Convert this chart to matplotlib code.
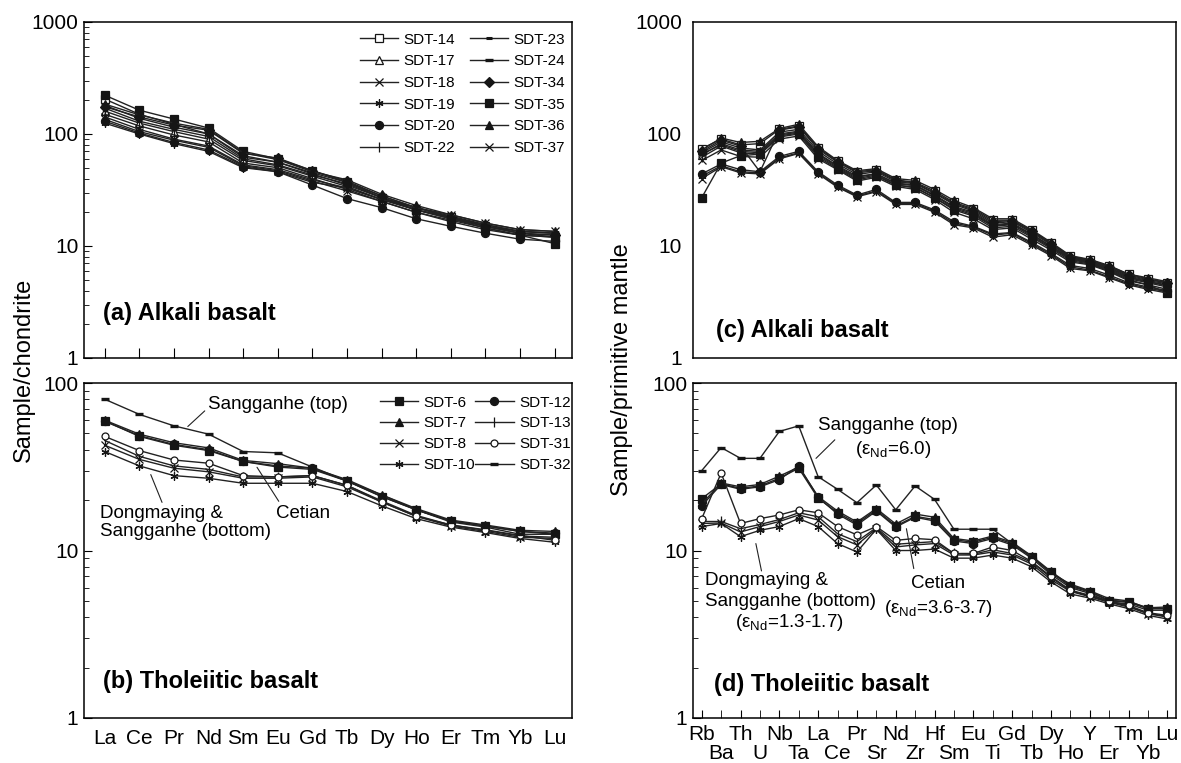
import numpy as np
import matplotlib.pyplot as plt
from matplotlib.ticker import NullFormatter, LogLocator

plt.rcParams['font.family'] = ['Liberation Sans', 'DejaVu Sans']
plt.rcParams['mathtext.fontset'] = 'custom'
plt.rcParams['mathtext.rm'] = 'Liberation Sans'

#   Elements
ree = ['La', 'Ce', 'Pr', 'Nd', 'Sm', 'Eu', 'Gd', 'Tb', 'Dy', 'Ho', 'Er', 'Tm', 'Yb', 'Lu']
spider = ['Rb', 'Ba', 'Th', 'U', 'Nb', 'Ta', 'La', 'Ce', 'Pr', 'Sr', 'Nd', 'Zr', 'Hf',
          'Sm', 'Eu', 'Ti', 'Gd', 'Tb', 'Dy', 'Ho', 'Y', 'Er', 'Tm', 'Yb', 'Lu']

#   Alkali basalt samples (a, c)
alkali_names = ['SDT-14', 'SDT-17', 'SDT-18', 'SDT-19', 'SDT-20', 'SDT-22',
                'SDT-23', 'SDT-24', 'SDT-34', 'SDT-35', 'SDT-36', 'SDT-37']
alkali_ree = [
    [205, 150, 122, 100, 62, 56, 44, 35, 27, 21, 18, 15, 13, 12],
    [160, 125, 105, 90, 58, 52, 42, 34, 26, 21, 17.5, 15, 13, 12.5],
    [135, 105, 88, 76, 52, 47, 38, 31, 25, 20, 17, 14.5, 12.5, 12],
    [125, 100, 82, 70, 50, 46, 37, 33, 26, 21, 18, 15.5, 13.5, 13],
    [130, 102, 84, 72, 51, 46, 35, 26.5, 22, 17.5, 15, 13, 11.5, 11],
    [150, 118, 98, 85, 55, 50, 40, 32, 25, 20, 16.5, 14, 12.5, 12],
    [170, 130, 110, 95, 60, 53, 43, 36, 27, 22, 18, 15, 13.5, 13],
    [180, 138, 115, 100, 64, 56, 45, 37, 28, 22, 18.5, 15.5, 13.5, 13],
    [175, 142, 120, 108, 67, 61, 47, 38, 28, 22, 18, 15, 13, 12.5],
    [222, 163, 136, 113, 70, 60, 47, 37, 27, 21, 17.5, 14.5, 12.5, 10.5],
    [185, 148, 125, 110, 68, 59, 46, 39, 29, 23, 19, 16, 14, 13.5],
    [142, 110, 90, 78, 53, 48, 39, 33, 26, 22, 19, 16, 14, 13.5],
]
alkali_spider = [
    [74, 90, 80, 82, 110, 118, 75, 57, 46, 48, 39, 37, 31, 24.5, 21.5, 17, 17, 13.8, 10.6, 8.1, 7.5, 6.6, 5.6, 5.1, 4.7],
    [65, 82, 72, 70, 100, 106, 67, 52, 42, 44, 36.5, 35, 28.5, 22.5, 20, 15.5, 16, 12.8, 10, 7.8, 7.2, 6.3, 5.3, 4.8, 4.5],
    [58, 72, 63, 62, 90, 96, 60, 48, 38, 41, 34, 32, 26, 20, 17.5, 14, 14.5, 11.5, 9.2, 7.2, 6.8, 5.9, 4.9, 4.5, 4.1],
    [42, 52, 46, 45, 61, 68, 45, 34, 28, 31, 24, 24, 20.5, 16, 14.8, 12.5, 13, 10.5, 8.4, 6.5, 6.1, 5.3, 4.6, 4.2, 3.9],
    [44, 54, 48, 46, 63, 70, 46, 35, 28.5, 32, 24.5, 24.5, 21, 16.5, 15, 12.8, 13.2, 10.8, 8.6, 6.7, 6.3, 5.5, 4.7, 4.3, 4.0],
    [62, 78, 68, 66, 96, 102, 64, 50, 40, 43, 35, 33.5, 27, 21.5, 19, 15, 15.5, 12.3, 9.7, 7.6, 7.0, 6.1, 5.1, 4.7, 4.3],
    [68, 85, 75, 72, 104, 110, 70, 54, 43.5, 46, 37.5, 36, 29.5, 23.5, 20.5, 16, 16.5, 13.2, 10.3, 7.9, 7.3, 6.4, 5.4, 4.9, 4.6],
    [66, 80, 70, 68, 98, 104, 66, 51, 41, 44, 36, 34.5, 28, 22, 19.5, 15.2, 15.8, 12.6, 9.9, 7.7, 7.1, 6.2, 5.2, 4.8, 4.4],
    [70, 88, 78, 46, 108, 116, 73, 56, 45, 47, 38.5, 36.5, 30, 24, 21, 16.5, 16.8, 13.5, 10.5, 8.0, 7.4, 6.5, 5.5, 5.0, 4.7],
    [27, 55, 64, 66, 94, 100, 62, 49, 39, 42, 35, 33, 27, 21, 18.5, 14.5, 15, 12, 9.5, 7.4, 6.9, 6.0, 5.0, 4.5, 3.8],
    [72, 92, 84, 86, 112, 122, 77, 58, 47, 49, 40, 38.5, 32, 25.5, 22, 17.5, 17.5, 14, 10.8, 8.2, 7.6, 6.7, 5.6, 5.2, 4.8],
    [40, 51, 45, 44, 60, 67, 44, 33.5, 27.5, 30.5, 23.5, 23.5, 20, 15.5, 14.5, 12, 12.6, 10.2, 8.2, 6.3, 6.0, 5.2, 4.5, 4.1, 3.8],
]

#   Tholeiitic basalt samples (b, d)
thol_names = ['SDT-6', 'SDT-7', 'SDT-8', 'SDT-10', 'SDT-12', 'SDT-13', 'SDT-31', 'SDT-32']
thol_ree = [
    [59.5, 48, 42.5, 39.5, 34, 31.5, 30.5, 26, 21, 17.5, 15, 14, 13, 12.5],
    [60, 49.5, 44, 41, 34.5, 33, 31, 26.5, 21.5, 17.8, 15.2, 14.2, 13.2, 13],
    [42.5, 35, 31, 29.5, 27, 27, 27.5, 24, 19.5, 16, 14, 13, 12, 11.8],
    [39, 32, 28, 27, 25.2, 25.2, 25.2, 22.5, 18.5, 15.5, 13.8, 12.8, 11.8, 11.2],
    [59, 48.5, 43, 40, 34, 32, 31, 26, 21, 17.5, 15, 14, 13, 12.7],
    [45.4, 36.5, 32, 30.5, 27.5, 27.5, 28, 24.5, 19.8, 16.2, 14.2, 13.2, 12.2, 12],
    [48, 39.5, 34.7, 33.2, 28, 27.5, 28, 24.5, 19.5, 16, 14.2, 13.3, 12.3, 11.5],
    [80, 65, 55.5, 49.5, 39, 38.3, 31.5, 26, 21.5, 17.5, 14.8, 13.8, 12.5, 12.5],
]
thol_spider = [
    [20.4, 25, 23.5, 24.3, 27, 31, 20.5, 16.8, 14.5, 17.5, 14, 16, 15.3, 11.6, 11.2, 12, 11, 9.2, 7.4, 6.1, 5.65, 5.0, 4.9, 4.5, 4.5],
    [19, 25.3, 24, 24.8, 27.8, 31.5, 21, 17.2, 14.8, 17.8, 14.4, 16.5, 15.8, 11.8, 11.4, 12.2, 11.2, 9.3, 7.5, 6.2, 5.7, 5.05, 4.95, 4.55, 4.6],
    [14.5, 14.6, 12.9, 13.9, 14.9, 16.3, 15.2, 12.1, 10.8, 13.5, 10.5, 10.8, 11.0, 9.4, 9.4, 9.8, 9.4, 8.3, 6.7, 5.7, 5.3, 4.9, 4.6, 4.2, 4.0],
    [13.9, 14.5, 12.1, 13.2, 13.9, 15.5, 13.9, 11, 9.8, 13.4, 10, 10, 10.2, 9.0, 9.0, 9.4, 9.0, 8.0, 6.5, 5.5, 5.2, 4.8, 4.5, 4.1, 3.9],
    [18.5, 24.8, 23.2, 24, 26.5, 32, 20.8, 16.5, 14.2, 17.2, 13.8, 15.8, 15, 11.4, 11, 11.8, 10.8, 9.0, 7.2, 6.0, 5.55, 4.9, 4.8, 4.4, 4.4],
    [14.9, 14.9, 13.5, 14.3, 15.3, 16.8, 15.9, 12.6, 11.3, 13.7, 10.9, 11.1, 11.3, 9.6, 9.5, 10.1, 9.6, 8.5, 6.9, 5.75, 5.35, 4.95, 4.65, 4.2, 4.05],
    [15.5, 29, 14.5, 15.5, 16.3, 17.5, 16.8, 13.9, 12.4, 13.9, 11.5, 11.8, 11.6, 9.6, 9.6, 10.5, 10, 8.6, 7.0, 5.8, 5.4, 5.0, 4.7, 4.25, 4.1],
    [30, 41.2, 35.5, 35.5, 51.4, 55.5, 27.6, 23.2, 19.3, 24.6, 17.5, 24.3, 20.2, 13.4, 13.4, 13.4, 11.0, 9.2, 7.35, 6.3, 5.75, 5.16, 5.0, 4.5, 4.5],
]

#   Marker style of every sample
styles = {
    'SDT-14': dict(marker='s', mfc='white'),
    'SDT-17': dict(marker='^', mfc='white'),
    'SDT-18': dict(marker='x'),
    'SDT-19': dict(marker=(6, 2, 0)),
    'SDT-20': dict(marker='o'),
    'SDT-22': dict(marker='|', ms=7.5),
    'SDT-23': dict(marker='_', ms=4, mew=2.2),
    'SDT-24': dict(marker='_', ms=6, mew=2.4),
    'SDT-34': dict(marker='D', ms=5),
    'SDT-35': dict(marker='s'),
    'SDT-36': dict(marker='^'),
    'SDT-37': dict(marker='x'),
    'SDT-6': dict(marker='s'),
    'SDT-7': dict(marker='^'),
    'SDT-8': dict(marker='x'),
    'SDT-10': dict(marker=(6, 2, 0)),
    'SDT-12': dict(marker='o'),
    'SDT-13': dict(marker='|', ms=7.5),
    'SDT-31': dict(marker='o', mfc='white', ms=5),
    'SDT-32': dict(marker='_', ms=6, mew=2.4),
}


def draw(ax, names, values):
    x = np.arange(len(values[0]))
    for name, vals in zip(names, values):
        st = dict(ms=5.8, mew=0.9, mfc='#151515')
        st.update(styles[name])
        ax.plot(x, vals, color='#222222', lw=1.0, mec='#151515', label=name, **st)


def setup(ax, ymax, xlim):
    ax.set_yscale('log')
    ax.set_ylim(1, ymax)
    ax.set_xlim(*xlim)
    ticks = [t for t in [1, 10, 100, 1000] if t <= ymax]
    ax.set_yticks(ticks)
    ax.set_yticklabels([str(t) for t in ticks])
    ax.yaxis.set_minor_locator(LogLocator(base=10, subs=np.arange(2, 10)))
    ax.yaxis.set_minor_formatter(NullFormatter())
    ax.tick_params(which='both', direction='in', top=False, right=False, labelsize=15)
    ax.tick_params(axis='y', which='major', length=6, pad=4)
    ax.tick_params(axis='y', which='minor', length=3.5)
    for s in ax.spines.values():
        s.set_linewidth(1.1)


fig = plt.figure(figsize=(11.81, 7.63), dpi=100)
ax_a = fig.add_axes([0.0711, 0.5308, 0.4132, 0.4404])
ax_b = fig.add_axes([0.0711, 0.059, 0.4132, 0.439])
ax_c = fig.add_axes([0.5868, 0.5308, 0.409, 0.4404])
ax_d = fig.add_axes([0.5868, 0.059, 0.409, 0.439])

txt = 13.5
lab = 17

# (a)
draw(ax_a, alkali_names, alkali_ree)
setup(ax_a, 1000, (-0.6, 13.5))
ax_a.set_xticks(np.arange(len(ree)))
ax_a.set_xticklabels([])
ax_a.tick_params(axis='x', which='both', length=7)
ax_a.xaxis.set_minor_locator(plt.NullLocator())
ax_a.legend(ncol=2, loc='upper right', bbox_to_anchor=(0.986, 0.968), frameon=False,
            fontsize=11, handlelength=2.5, handletextpad=0.35, columnspacing=1.0,
            labelspacing=0.5, borderpad=0, borderaxespad=0)
ax_a.text(0.04, 0.132, '(a) Alkali basalt', transform=ax_a.transAxes,
          fontsize=lab, fontweight='bold', va='center')

# (b)
draw(ax_b, thol_names, thol_ree)
setup(ax_b, 100, (-0.6, 13.5))
ax_b.set_xticks(np.arange(len(ree)))
ax_b.set_xticklabels(ree)
ax_b.xaxis.set_minor_locator(plt.NullLocator())
ax_b.tick_params(axis='x', which='both', length=0, pad=8)
ax_b.legend(ncol=2, loc='upper right', bbox_to_anchor=(0.997, 0.962), frameon=False,
            fontsize=11, handlelength=2.5, handletextpad=0.35, columnspacing=0.0,
            labelspacing=0.44, borderpad=0, borderaxespad=0)
ax_b.text(0.04, 0.109, '(b) Tholeiitic basalt', transform=ax_b.transAxes,
          fontsize=lab, fontweight='bold', va='center')
ax_b.annotate('Sangganhe (top)', xy=(2.4, 55), xytext=(2.97, 74), fontsize=txt, va='center',
              arrowprops=dict(arrowstyle='-', lw=0.8, color='#222222', shrinkA=0, shrinkB=0,
                              relpos=(0, 0.3)))
ax_b.annotate('Cetian', xy=(4.4, 31.4), xytext=(4.95, 16.7), fontsize=txt, va='center',
              arrowprops=dict(arrowstyle='-', lw=0.8, color='#222222', shrinkA=0, shrinkB=0,
                              relpos=(0.05, 1.2)))
ax_b.annotate('Dongmaying &\nSangganhe (bottom)', xy=(1.33, 28.4), xytext=(-0.14, 14.7),
              fontsize=txt, va='center', linespacing=1.05,
              arrowprops=dict(arrowstyle='-', lw=0.8, color='#222222', shrinkA=0, shrinkB=0,
                              relpos=(0.37, 1.0)))

# (c)
draw(ax_c, alkali_names, alkali_spider)
setup(ax_c, 1000, (-0.45, 24.45))
ax_c.set_xticks([])
ax_c.tick_params(axis='both', which='both', length=0)
ax_c.tick_params(axis='y', pad=8)
ax_c.text(0.047, 0.083, '(c) Alkali basalt', transform=ax_c.transAxes,
          fontsize=lab, fontweight='bold', va='center')

# (d)
draw(ax_d, thol_names, thol_spider)
setup(ax_d, 100, (-0.45, 24.45))
idx = np.arange(len(spider))
ax_d.set_xticks(idx[0::2])
ax_d.set_xticklabels(spider[0::2])
ax_d.set_xticks(idx[1::2], minor=True)
ax_d.set_xticklabels(spider[1::2], minor=True)
ax_d.tick_params(axis='x', which='both', length=6, labelsize=15)
ax_d.tick_params(axis='x', which='major', pad=5)
ax_d.tick_params(axis='x', which='minor', pad=19)
ax_d.text(0.044, 0.10, '(d) Tholeiitic basalt', transform=ax_d.transAxes,
          fontsize=lab, fontweight='bold', va='center')
arrow = dict(arrowstyle='-', lw=0.8, color='#222222', shrinkA=0, shrinkB=0)
ax_d.text(6.0, 56, 'Sangganhe (top)', fontsize=txt, va='center')
ax_d.text(9.85, 40.3, '(ε$_{\\rm Nd}$=6.0)', fontsize=txt, va='center', ha='center')
ax_d.annotate('', xy=(5.89, 35.5), xytext=(6.86, 45.8), arrowprops=arrow)
ax_d.text(0.17, 6.64, 'Dongmaying &', fontsize=txt, va='center')
ax_d.text(0.17, 4.93, 'Sangganhe (bottom)', fontsize=txt, va='center')
ax_d.text(4.5, 3.74, '(ε$_{\\rm Nd}$=1.3-1.7)', fontsize=txt, va='center', ha='center')
ax_d.annotate('', xy=(2.79, 11.0), xytext=(3.08, 7.55), arrowprops=arrow)
ax_d.text(12.16, 6.35, 'Cetian', fontsize=txt, va='center', ha='center')
ax_d.text(12.19, 4.5, '(ε$_{\\rm Nd}$=3.6-3.7)', fontsize=txt, va='center', ha='center')
ax_d.annotate('', xy=(10.55, 13.5), xytext=(10.93, 7.8), arrowprops=arrow)

fig.text(0.02, 0.515, 'Sample/chondrite', rotation=90, fontsize=lab, va='center', ha='center')
fig.text(0.527, 0.515, 'Sample/primitive mantle', rotation=90, fontsize=lab, va='center', ha='center')

plt.savefig('out.png', dpi=100)
